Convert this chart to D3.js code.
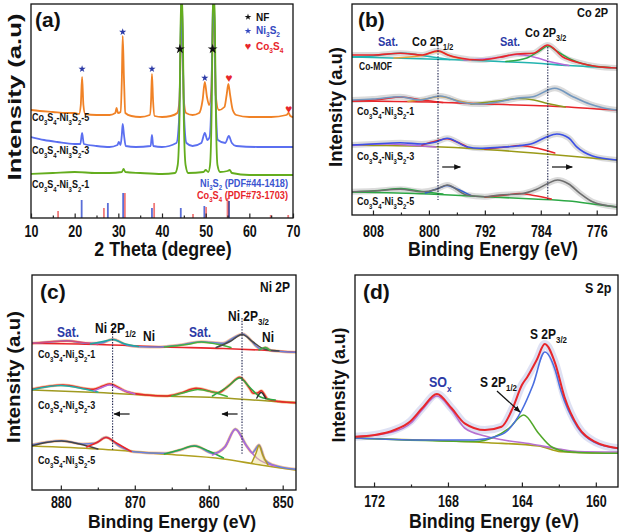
<!DOCTYPE html>
<html><head><meta charset="utf-8">
<script src="https://cdn.jsdelivr.net/npm/d3@7"></script>
<style>
body{margin:0;background:#fff}
svg{display:block}
text{font-family:"Liberation Sans",Arial,Helvetica,sans-serif;font-weight:bold}
</style></head>
<body><svg id="c" width="625" height="532"></svg>
<script>
// ================= DATA =================
// (a) XRD : [2theta, intensity a.u.]
const xrdTicks = [10,20,30,40,50,60,70];
const xrdMinor = [15,25,35,45,55,65];
const xrdS5 = [[10,108],[12,107],[15,106],[18,105],[20,105],[21.0,104],[21.4,113],[21.7,141],[22.0,113],[22.4,104],[25,103],[28,103],[29.3,105],[29.6,110],[29.9,105],[30.5,106],[30.8,138],[31.0,182],[31.3,138],[31.6,105],[33,102],[35,101],[37.2,103],[37.5,118],[37.7,144],[37.95,118],[38.3,102],[40,101],[42,102],[43.5,105],[44.0,118],[44.3,178],[44.5,228],[44.7,178],[45.0,118],[45.5,105],[47,103],[48.5,105],[49.3,118],[49.8,136],[50.3,121],[50.8,113],[51.3,128],[51.6,188],[51.8,228],[52.0,188],[52.3,123],[53,108],[54.3,111],[54.8,123],[55.2,134],[55.6,123],[56.2,108],[57,103],[60,101],[65,101],[68.5,103],[69.0,105],[69.4,102],[70,101]];
const xrdS3 = [[10,81],[13,78],[16,76],[20,74],[21.3,74],[21.7,85],[22.1,74],[25,72],[28,71],[29.8,73],[30.1,76],[30.5,73],[30.8,83],[31.0,94],[31.3,83],[31.7,72],[34,71],[37.4,72],[37.7,83],[38.0,72],[40,71],[43.3,75],[43.9,98],[44.2,158],[44.5,228],[44.8,158],[45.1,98],[45.6,75],[47,72],[49.0,75],[49.8,85],[50.4,78],[50.9,81],[51.3,118],[51.6,198],[51.8,228],[52.0,198],[52.3,118],[52.8,78],[54.5,75],[55.3,82],[56.0,75],[57,72],[62,71],[70,71]];
const xrdS1 = [[10,44],[15,45],[20,46],[25,45],[28,45],[30.8,46],[31.2,49],[31.6,46],[35,45],[40,44],[43.0,45],[43.6,53],[44.0,98],[44.2,178],[44.5,228],[44.8,178],[45.0,98],[45.4,53],[46,45],[49.5,46],[50,48],[50.6,46],[51.0,53],[51.4,118],[51.6,198],[51.8,228],[52.1,198],[52.3,118],[52.7,53],[53.3,46],[55.0,47],[55.5,48],[56.0,45],[60,43],[65,43],[70,43]];
const ni3s2Pos = [21.6,27.6,31.1,37.7,44.3,49.7,55.3];
const ni3s2H   = [18,15,25,10,10,12,17];
const co3s4Pos = [16.2,26.7,31.5,38.2,47.1,50.1,55.0,64.9,68.9];
const co3s4H   = [7,10,25,15,4,11,20,3,3];
const markTheta = [21.7,31.0,37.7,49.8,44.1,51.6,55.3,69.0];
const markI     = [149,186,149,140,169,169,140,109];
const markType  = ['ni','ni','ni','ni','nf','nf','co','co'];

// (b) Co 2p : [eV, intensity]
const coTicks = [808,800,792,784,776];
const coMinor = [804,796,788,780];
const bMOFraw = [[811,160],[808,160],[804.1,161.7],[800.9,160],[798.7,164.3],[797.3,160],[795.6,157],[792.7,155],[789.9,157.7],[787.4,161],[785.1,161.7],[783,170],[780.9,158.3],[778.4,152],[776,148.5],[773.1,147]];
const bMOFbg  = [[811,158],[800,156],[795,155],[790,153.5],[785,152],[780,149.5],[773.1,147]];
const bMOFsat1 = [[811,158],[808,159],[804,162],[800,158.5],[797,155.5]];
const bMOFp12  = [[805,157],[801,159.5],[798.7,163.5],[796.5,158],[794,154.8]];
const bMOFsat2 = [[795,155],[790,157.5],[787.4,160.5],[785,158],[782.5,153],[780,149.5]];
const bMOFp32  = [[789,153.5],[786,157],[784,165],[783,169],[781.5,163],[779.5,155],[776.5,149],[774,147.5]];
const b1raw = [[811,115],[808,116],[804.1,118.3],[801.3,115],[798.4,119],[795.1,112.3],[792.7,111],[789.9,113.3],[787.4,116.7],[785.1,118.3],[782,126.7],[779.4,118.3],[777,111],[775,107],[773.1,105]];
const b1bg  = [[811,114],[800,113],[792,111],[785,109.5],[780,108],[776,106],[773.1,105]];
const b1sat1 = [[811,114],[807,115.5],[804,118],[801,115],[798,112.5]];
const b1p12  = [[803,113.5],[800.5,116],[798.4,118.5],[796,114.5],[793.5,111]];
const b1sat2 = [[794,111],[790,114],[787.2,116.5],[785,115],[783,111.5],[780.5,108]];
const b3raw = [[811,70],[808,71],[804.1,72.3],[801,71],[799,73],[797.4,76.7],[794.6,68.3],[792.7,66.7],[789.9,67.7],[787.4,69],[785.1,71.7],[783.2,78],[781.7,81],[780,77],[778.9,68.3],[776.6,59],[773.1,55]];
const b3bg  = [[811,70],[800,68.5],[792.7,66],[785,62],[780,59],[776,56.5],[773.1,55]];
const b3sat1 = [[811,69.5],[806,71],[802,69.5],[799,68]];
const b3p12  = [[801,70],[799,74],[797.4,76.2],[796,73],[794.5,68]];
const b3sat2 = [[792,66],[789,68],[787,69.5],[785,67.5],[782,62]];
const b5raw = [[811,23.3],[808,24],[804.1,25.7],[801,23.3],[799,25.5],[797.4,30],[794.6,20],[792,18.3],[789.9,20],[787,21],[784.6,25.7],[783,31.5],[781.6,35],[780,31],[778.4,21.7],[776.6,13.3],[773.1,8]];
const b5bg  = [[811,23],[800,21],[792,18.3],[785,16],[780,14],[776,10.5],[773.1,8]];
const b5sat1 = [[811,23],[807,24.5],[804,26.5],[801,23.5],[798,21]];
const b5p12  = [[800.5,22],[798.5,27],[797.4,29.5],[796,26],[794,19.5]];
const b5sat2 = [[792,18],[789,20],[787,21.5],[785,19.5],[782.5,16]];

// (c) Ni 2p
const niTicks = [880,870,860,850];
const niMinor = [875,865,855];
const c1raw = [[884,146.7],[881.5,148],[879.2,149.3],[876.5,146.7],[874.5,147],[873,150.7],[871.1,145],[869.3,143.3],[866.6,143],[863.9,145],[861,148.3],[858.1,146.7],[856.7,152],[855.4,156],[854.1,148],[853.6,144],[852.9,141],[852.3,142.5],[851.6,139.5],[848.2,137.7]];
const c1bg  = [[884,146.7],[875,145.5],[866,143],[858,141.5],[852,139.5],[848.2,137.7]];
const c1sat1 = [[884,146.5],[881,148.5],[879,149],[877,147.5],[875,145.5]];
const c1p12  = [[876,146],[874,149],[873,150.5],[871.5,146.5],[869.5,143.5]];
const c1sat2 = [[866,143],[863,145.5],[861,148],[859,146],[857,142.5]];
const c1p32  = [[859,142.5],[857,149],[855.5,155.5],[854,148],[852.5,141],[850.5,139]];
const c1ni   = [[853.2,140],[852.4,142.5],[851.7,139.5]];
const c3raw = [[884,100.7],[879.7,105],[875.6,100.7],[874.3,104],[873.4,106],[871.1,98.3],[868.4,95],[865.9,94],[863.9,96.7],[861.7,101.7],[858.7,97.3],[857.2,105],[855.8,112.7],[854.5,102],[854,96.7],[853.4,97],[852.9,99.3],[852,90.7],[850.5,88.5],[848.2,87.3]];
const c3bg  = [[884,100],[875,97.5],[866,94],[858,92],[852,89],[848.2,87.3]];
const c3sat1 = [[884,100],[882,103],[880,104.5],[877.5,102],[875,98]];
const c3p12  = [[875.5,99],[874.3,103],[873.4,105],[872,101],[870,96]];
const c3sat2 = [[865,94],[863,98],[861.5,100.5],[859.5,98],[857.5,93.5]];
const c3p32  = [[859.5,94],[857.5,103],[855.8,112],[854.5,103],[853,93],[851,90]];
const c3ni   = [[853.5,92],[852.9,97.5],[852.3,91.5]];
const c5raw = [[884,45],[879.9,49.3],[877,46],[875.4,46.7],[873.9,52.7],[872,43.3],[870.2,38.3],[865.9,36.7],[863.9,40],[861.9,44.3],[859.4,36.7],[857.8,43.3],[856.4,61],[854.8,43.3],[854.1,37.3],[853.2,45],[852.4,30],[851.3,25],[848.2,20.7]];
const c5bg  = [[884,44],[875,41],[866,36],[858,31],[853,25],[848.2,20]];
const c5sat1 = [[884,44],[882,47.5],[879.9,49],[877.5,46],[875,41]];
const c5p12  = [[876.5,43],[875,48],[873.9,52.5],[872.5,47],[870.5,38.5]];
const c5sat2 = [[866,36],[864,40],[862,44],[860,39],[858,32]];
const c5p32  = [[859.5,35],[857.8,43],[856.4,60.5],[855,45],[853.5,32],[851,24]];
const c5ni   = [[854.2,27],[853.6,37],[853.2,44.5],[852.7,35],[852,25]];

// (d) S 2p
const sTicks = [172,168,164,160];
const sMinor = [170,166,162];
const dEnv = [[173.03,50.3],[171.95,52],[170.9,57],[170.06,65.3],[169.4,78.7],[168.6,93],[167.8,78.7],[167.1,63.7],[166.0,57],[165.1,60.3],[164.5,78.7],[164.0,102],[163.7,110.3],[163.2,127],[162.76,143],[162.2,123.7],[161.7,90.3],[160.96,60.3],[160.06,45.3],[158.8,38.7]];
const dSOx = [[173.03,50],[171,55],[170,64],[169.4,77],[168.6,91],[167.8,77],[167.1,59],[166,51],[165,47],[163.5,43],[162,38],[161,35.5],[158.8,35]];
const dP32 = [[173.03,49],[169.4,47],[166.6,47],[165.5,50],[164.8,56],[164.0,77],[163.4,102],[162.76,135],[162.2,117],[161.9,97],[161.0,60],[160.1,45],[158.8,38.5]];
const dP12 = [[173.03,49],[166.5,45.5],[165.5,50],[164.7,58.7],[163.9,72],[163.1,53.7],[162.4,40.3],[161.5,35.3],[160,34],[158.8,33.7]];
const dBg  = [[173.03,48.7],[169.4,47],[165.8,44.3],[163.1,41],[161.9,35.3],[160,34],[158.8,33.7]];

// ================= DRAWING =================
const SY = 1.3;
const svg = d3.select('#c');
const defs = svg.append('defs');
defs.append('marker').attr('id','arr').attr('viewBox','0 0 10 8').attr('refX',9).attr('refY',4)
  .attr('markerWidth',7).attr('markerHeight',5.5).attr('markerUnits','userSpaceOnUse').attr('orient','auto')
  .append('path').attr('d','M0,0L10,4L0,8z').attr('fill','#111');

function panel(id, box, xdom, ydom){
  const x = d3.scaleLinear().domain(xdom).range([box.l, box.r]);
  const y = d3.scaleLinear().domain(ydom).range([box.b, box.t]);
  defs.append('clipPath').attr('id','clip'+id).append('rect')
    .attr('x',box.l).attr('y',box.t).attr('width',box.r-box.l).attr('height',box.b-box.t);
  const g = svg.append('g');
  const plot = g.append('g').attr('clip-path',`url(#clip${id})`);
  const line = d3.line().x(d=>x(d[0])).y(d=>y(d[1])).curve(d3.curveMonotoneX);
  return {x,y,g,plot,box,line};
}
function frame(p){
  p.g.append('rect').attr('x',p.box.l).attr('y',p.box.t).attr('width',p.box.r-p.box.l).attr('height',p.box.b-p.box.t)
    .attr('fill','none').attr('stroke','#111').attr('stroke-width',1.3);
}
function xAxis(p, majors, minors, off){
  const a1 = p.g.append('g').attr('transform',`translate(0,${p.box.b})`)
    .call(d3.axisBottom(p.x).tickValues(minors).tickSize(-2.5).tickFormat(''));
  const a2 = p.g.append('g').attr('transform',`translate(0,${p.box.b})`)
    .call(d3.axisBottom(p.x).tickValues(majors).tickSize(-4.5).tickFormat(d3.format('d')));
  [a1,a2].forEach(a=>{a.select('.domain').remove(); a.selectAll('line').attr('stroke','#222').attr('stroke-width',1.2);});
  a2.selectAll('text').attr('y',0).attr('dy',null)
    .attr('transform',`translate(0,${off}) scale(1,1.25)`)
    .attr('font-size',12.5).attr('font-weight','bold').attr('fill','#111')
    .attr('font-family','"Liberation Sans",Arial,sans-serif');
}
function label(sel, x, y, parts, o={}){
  const size = o.size||11;
  const g = sel.append('g').attr('transform',`translate(${x},${y}) scale(1,${o.sy ?? SY})`);
  const t = g.append('text').attr('font-size',size).attr('fill',o.color||'#111')
    .attr('text-anchor',o.anchor||'start');
  let inSub = false;
  const sh = size*0.3;
  parts.forEach(pt=>{
    const ts = t.append('tspan');
    if (Array.isArray(pt)){
      ts.text(pt[0]).attr('font-size',size*0.66);
      if(!inSub){ ts.attr('dy',sh); inSub = true; }
    } else {
      ts.text(pt);
      if(inSub){ ts.attr('dy',-sh); inSub = false; }
    }
  });
  return t;
}
function yTitle(sel, x, cy, len){
  sel.append('text').attr('transform',`translate(${x},${cy}) rotate(-90)`)
    .attr('text-anchor','middle').attr('font-size',18.5).attr('fill','#111')
    .attr('textLength',len).attr('lengthAdjust','spacingAndGlyphs').text('Intensity (a.u)');
}
function xTitle(sel, cx, y, size=17.8, sy=1.12){
  label(sel, cx, y, ['Binding Energy (eV)'], {size:size, anchor:'middle', sy:sy});
}
function panelTag(sel,x,y,s){
  sel.append('text').attr('x',x).attr('y',y).attr('font-size',21).attr('fill','#111').text(s);
}
const sample = n => ['Co',['3'],'S',['4'],'-Ni',['3'],'S',['2'],'-'+n];
function path(p, data, color, w=1.5, extra){
  const e = p.plot.append('path').datum(data).attr('d',p.line).attr('fill','none')
    .attr('stroke',color).attr('stroke-width',w).attr('stroke-linejoin','round').attr('stroke-linecap','round');
  if(extra) extra(e);
  return e;
}
function halo(p, data, color, w, op){ path(p, data, color, w, e=>e.attr('opacity',op)); }
function arrow(p, x1,y1,x2,y2){
  p.g.append('line').attr('x1',p.x(x1)).attr('y1',p.y(y1)).attr('x2',p.x(x2)).attr('y2',p.y(y2))
    .attr('stroke','#111').attr('stroke-width',1.2).attr('marker-end','url(#arr)');
}
function vdot(p, xv, y1, y2){
  p.g.append('line').attr('x1',p.x(xv)).attr('x2',p.x(xv)).attr('y1',p.y(y1)).attr('y2',p.y(y2))
    .attr('stroke','#1a1f4a').attr('stroke-width',1.1).attr('stroke-dasharray','1.4,1.4');
}

const RED='#e8262b', BLUE='#2c3aa6';

// ---------- (a) ----------
const A = panel('a',{l:31,r:293,t:4,b:218},[10,70],[0,214]);
ni3s2Pos.forEach((v,i)=>A.plot.append('line').attr('x1',A.x(v)).attr('x2',A.x(v)).attr('y1',A.y(0)).attr('y2',A.y(ni3s2H[i]))
  .attr('stroke', i===6?'#1c2a8c':'#5a6ed8').attr('stroke-width',1.8));
co3s4Pos.forEach((v,i)=>A.plot.append('line').attr('x1',A.x(v)).attr('x2',A.x(v)).attr('y1',A.y(0)).attr('y2',A.y(co3s4H[i]))
  .attr('stroke','#f07a7a').attr('stroke-width',1.8));
path(A, xrdS5, '#f08226', 1.8);
path(A, xrdS3, '#5b6ff0', 1.8);
path(A, xrdS1, '#64ad1e', 1.8);
const starSym = r => d3.symbol(d3.symbolStar, r);
markTheta.forEach((t,i)=>{
  const ty = markType[i], cx=A.x(t), cy=A.y(markI[i]);
  if(ty==='co'){
    A.g.append('text').attr('x',cx).attr('y',cy+4).attr('text-anchor','middle').attr('font-size',12)
      .attr('font-family','DejaVu Sans').attr('fill',RED).text('\u2665');
  } else {
    A.g.append('path').attr('transform',`translate(${cx},${cy})`).attr('d',starSym(ty==='nf'?30:16)())
      .attr('fill', ty==='nf'?'#111':BLUE);
  }
});
A.g.append('path').attr('transform','translate(248,17)').attr('d',starSym(14)()).attr('fill','#111');
A.g.append('path').attr('transform','translate(248,31)').attr('d',starSym(14)()).attr('fill','#3448c0');
A.g.append('text').attr('x',248).attr('y',50).attr('text-anchor','middle').attr('font-size',11)
  .attr('font-family','DejaVu Sans').attr('fill',RED).text('\u2665');
label(A.g,256,21,['NF'],{size:10,sy:1.05});
label(A.g,256,34,['Ni',['3'],'S',['2']],{size:10,color:'#3448c0',sy:1.05});
label(A.g,256,49.5,['Co',['3'],'S',['4']],{size:10,color:RED,sy:1.05});
label(A.g,32,121,sample(5),{size:9});
label(A.g,32,154,sample(3),{size:9});
label(A.g,32,188,sample(1),{size:9});
label(A.g,288,186.5,['Ni',['3'],'S',['2'],' (PDF#44-1418)'],{size:9.2,anchor:'end',color:'#3b55d0',sy:1.15});
label(A.g,288,198.5,['Co',['3'],'S',['4'],' (PDF#73-1703)'],{size:9.2,anchor:'end',color:RED,sy:1.15});
frame(A);
xAxis(A, xrdTicks, xrdMinor, 18.5);
panelTag(A.g,35,27,'(a)');
label(svg,163,256,['2 Theta (degree)'],{size:17.8,anchor:'middle',sy:1.12});
yTitle(svg,21,97,167);

// ---------- (b) ----------
const B = panel('b',{l:352,r:617,t:4,b:215},[811,773.1],[0,211]);
function spectrumB(raw,bg,comps,env){
  halo(B, raw, '#b8b8b8', 6, 0.5);
  path(B, bg.data, bg.c, 1.6);
  comps.forEach(c=>path(B, c.data, c.c, 1.5));
  path(B, raw, env, 1.6);
}
spectrumB(bMOFraw,{data:bMOFbg,c:'#22b4b0'},[{data:bMOFsat1,c:'#1fb5b5'},{data:bMOFp12,c:'#e9a23a'},{data:bMOFsat2,c:'#b66ad8'},{data:bMOFp32,c:'#2ca845'}],RED);
spectrumB(b1raw,{data:b1bg,c:RED},[{data:b1sat1,c:RED},{data:b1p12,c:'#d8a03a'},{data:b1sat2,c:'#8c9a20'}],'#7398bf');
spectrumB(b3raw,{data:b3bg,c:'#9a9a18'},[{data:b3sat1,c:'#b66ad8'},{data:b3p12,c:RED},{data:b3sat2,c:RED}],'#3c50e6');
spectrumB(b5raw,{data:b5bg,c:'#2ca845'},[{data:b5sat1,c:'#2ca845'},{data:b5p12,c:'#2f5fd0'},{data:b5sat2,c:RED}],'#6e6e6e');
vdot(B,798.7,170,15); vdot(B,783,168,15);
arrow(B,798.1,48,795.5,48); arrow(B,782.4,48,779.5,48);
frame(B);
xAxis(B, coTicks, coMinor, 21.5);
panelTag(B.g,358,27,'(b)');
label(B.g,577,17,['Co 2P'],{size:11,sy:1.2});
label(B.g,378,46,['Sat.'],{size:11,color:BLUE,sy:1.2});
label(B.g,412,46,['Co 2P',['1/2']],{size:11,sy:1.2});
label(B.g,500,46,['Sat.'],{size:11,color:BLUE,sy:1.2});
label(B.g,525,37,['Co 2P',['3/2']],{size:11,sy:1.2});
label(B.g,359,70,['Co-MOF'],{size:8.5});
label(B.g,357,115,sample(1),{size:9});
label(B.g,357,160,sample(3),{size:9});
label(B.g,357,205,sample(5),{size:9});
xTitle(svg,493,256);
yTitle(svg,342,107,120);

// ---------- (c) ----------
const C = panel('c',{l:32,r:296,t:275,b:490},[883.9,848.2],[0,215]);
function spectrumC(raw,bg,comps,env){
  halo(C, raw, '#f29a55', 3, 0.6);
  path(C, bg.data, bg.c, 1.6);
  path(C, raw, env, 1.5);
  comps.forEach(c=>{
    const e = path(C, c.data, c.c, 1.5);
    if(c.fill) e.attr('fill',c.fill);
  });
}
spectrumC(c1raw,{data:c1bg,c:RED},[{data:c1sat1,c:'#d94a7a'},{data:c1p12,c:'#1fa8a0'},{data:c1sat2,c:'#45b040'},{data:c1p32,c:'#4a4a4a'},{data:c1ni,c:'#45b040'}],'#6a80d8');
spectrumC(c3raw,{data:c3bg,c:'#a09a20'},[{data:c3sat1,c:'#1fb0a8'},{data:c3p12,c:'#b66ad8'},{data:c3sat2,c:'#45b040'},{data:c3p32,c:'#2ca845'},{data:c3ni,c:'#333'}],RED);
spectrumC(c5raw,{data:c5bg,c:'#b0a020'},[{data:c5sat1,c:'#444'},{data:c5p12,c:RED},{data:c5sat2,c:'#2ca845'},{data:c5p32,c:'#b06ad8'},{data:c5ni,c:'#b09a20',fill:'rgba(240,225,140,0.45)'}],'#6a80e0');
vdot(C,873,162,40); vdot(C,855.5,172,36);
arrow(C,870.7,76,872.8,76); arrow(C,856.1,76,858.2,76);
frame(C);
xAxis(C, niTicks, niMinor, 17.5);
panelTag(C.g,40,299,'(c)');
label(C.g,260,292,['Ni 2P'],{size:12,sy:1.2});
label(C.g,57,337,['Sat.'],{size:12,color:BLUE,sy:1.2});
label(C.g,95,333,['Ni 2P',['1/2']],{size:12,sy:1.2});
label(C.g,143,341,['Ni'],{size:12,sy:1.2});
label(C.g,189,337,['Sat.'],{size:12,color:BLUE,sy:1.2});
label(C.g,228,321,['Ni 2P',['3/2']],{size:12,sy:1.2});
label(C.g,262,342,['Ni'],{size:12,sy:1.2});
label(C.g,38,358,sample(1),{size:9});
label(C.g,38,409,sample(3),{size:9});
label(C.g,38,464,sample(5),{size:9});
xTitle(svg,172,527.5,17.6,1.05);
yTitle(svg,20,377,132);

// ---------- (d) ----------
const D = panel('d',{l:355,r:618,t:275,b:487},[173.03,158.8],[0,212]);
halo(D, dEnv, '#c3c8ea', 8, 0.55);
path(D, dBg, '#a8a018', 1.6);
path(D, dSOx, '#b670d0', 1.6);
path(D, dP12, '#52a82a', 1.6);
path(D, dP32, '#4a6ee0', 1.6);
path(D, dEnv, RED, 2);
arrow(D,165.35,96,164.1,75);
frame(D);
xAxis(D, sTicks, sMinor, 19.5);
panelTag(D.g,363,299,'(d)');
label(D.g,585,293,['S 2p'],{size:12.5,sy:1.2});
label(D.g,429,387,['SO',['x']],{size:12.5,color:BLUE,sy:1.2});
label(D.g,480,387,['S 2P',['1/2']],{size:12,sy:1.2});
label(D.g,530,339,['S 2P',['3/2']],{size:12,sy:1.2});
xTitle(svg,494,528);
yTitle(svg,345,385,115);
</script></body></html>
